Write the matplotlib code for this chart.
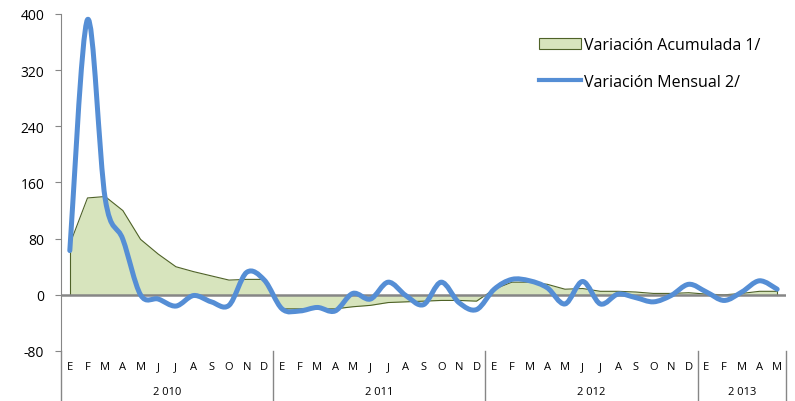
import numpy as np
import matplotlib.pyplot as plt
from matplotlib.path import Path
from matplotlib.patches import PathPatch, Patch
from matplotlib.lines import Line2D

plt.rcParams['font.family'] = ['Open Sans', 'DejaVu Sans']
plt.rcParams['axes.unicode_minus'] = False

meses = ['E', 'F', 'M', 'A', 'M', 'J', 'J', 'A', 'S', 'O', 'N', 'D'] * 3 + ['E', 'F', 'M', 'A', 'M']
anios = ['2 010', '2 011', '2 012', '2 013']
meses_por_anio = [12, 12, 12, 5]

acumulada = [72, 138, 140, 120, 79, 58, 40, 33, 27, 21, 22, 22,
             -20, -20, -20, -20, -17, -15, -11, -10, -9, -8, -8, -9,
             8, 18, 18, 15, 8, 9, 5, 5, 4, 2, 2, 3,
             1, 0, 2, 5, 5]
mensual = [63, 392, 137, 79, 0, -6, -16, -1, -10, -15, 32, 21,
           -20, -23, -18, -23, 2, -6, 18, -1, -14, 18, -11, -21,
           8, 22, 20, 10, -13, 19, -13, 1, -4, -10, -1, 15,
           4, -8, 4, 20, 8]

x = np.arange(len(meses))
y = np.array(mensual, dtype=float)

fig = plt.figure(figsize=(7.95, 4.02), dpi=100)
ax = fig.add_axes([0.0767, 0.1244, 0.912, 0.8383])

# area acumulada
ax.fill_between(x, 0, acumulada, color='#D7E4BD', lw=0, zorder=1)
ax.plot(x, acumulada, color='#4F6228', lw=0.8, zorder=2)
ax.plot([x[0], x[0]], [0, acumulada[0]], color='#4F6228', lw=0.8, zorder=2)
ax.plot([x[-1], x[-1]], [0, acumulada[-1]], color='#4F6228', lw=0.8, zorder=2)

ax.axhline(0, color='#868686', lw=1.8, zorder=3)

# linea suavizada (bezier tipo Excel)
pts = np.column_stack([x, y])
ext = np.vstack([pts[0], pts, pts[-1]])
verts = [pts[0]]
codes = [Path.MOVETO]
for i in range(len(pts) - 1):
    p0, p1, p2, p3 = ext[i], ext[i + 1], ext[i + 2], ext[i + 3]
    verts += [p1 + (p2 - p0) / 6, p2 - (p3 - p1) / 6, p2]
    codes += [Path.CURVE4] * 3
ax.add_patch(PathPatch(Path(verts, codes), fill=False, edgecolor='#558ED5',
                       lw=3.6, capstyle='round', joinstyle='round', zorder=4))

ax.set_xlim(-0.5, len(meses) - 0.5)
ax.set_ylim(-80, 400)
ax.set_yticks(np.arange(-80, 401, 80))
ax.tick_params(axis='y', length=4, color='#868686', labelsize=10, pad=8)
ax.set_xticks([])
for s in ['top', 'right', 'bottom']:
    ax.spines[s].set_visible(False)
ax.spines['left'].set_color('#868686')

# eje de categorias
trans = ax.get_xaxis_transform()
ax.plot([-0.5, -0.5], [0, -0.15], color='#868686', lw=1, transform=trans, clip_on=False)
for i, m in enumerate(meses):
    ax.text(i, -0.045, m, ha='center', va='center', fontsize=8, transform=trans)
inicio = 0
for a, n in zip(anios, meses_por_anio):
    fin = inicio + n
    ax.plot([fin - 0.5, fin - 0.5], [0, -0.15], color='#868686', lw=1,
            transform=trans, clip_on=False)
    ax.text((inicio + fin - 1) / 2, -0.12, a, ha='center', va='center',
            fontsize=8, transform=trans)
    inicio = fin

handles = [Patch(facecolor='#D7E4BD', edgecolor='#4F6228', lw=0.8),
           Line2D([], [], color='#558ED5', lw=3)]
ax.legend(handles, ['Variación Acumulada 1/', 'Variación Mensual 2/'],
          loc='upper left', bbox_to_anchor=(0.64, 0.975), frameon=False,
          fontsize=11.5, labelspacing=1.3, handlelength=2.6, handletextpad=0.2)

fig.savefig('out.png', dpi=100)
